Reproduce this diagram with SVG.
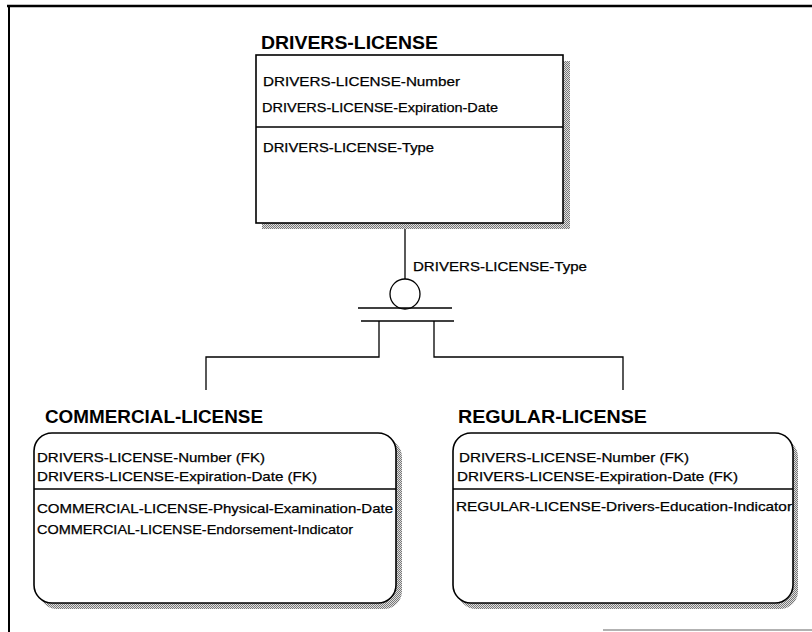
<svg xmlns="http://www.w3.org/2000/svg" width="812" height="632" viewBox="0 0 812 632">
<defs>
<pattern id="dither" width="2" height="2" patternUnits="userSpaceOnUse">
<rect width="2" height="2" fill="#e0e0e0"/>
<rect width="1" height="1" fill="#777"/>
<rect x="1" y="1" width="1" height="1" fill="#777"/>
</pattern>
</defs>
<style>
.title{font-family:"Liberation Sans",Arial,sans-serif;font-weight:bold;font-size:18px;fill:#000}
.attr{font-family:"Liberation Sans",Arial,sans-serif;font-size:13.5px;fill:#000;stroke:#000;stroke-width:0.25}
.box{fill:#fff;stroke:#000;stroke-width:1.6}
.shadow{fill:url(#dither);stroke:none}
.div{stroke:#000;stroke-width:1.4}
.conn{fill:none;stroke:#000;stroke-width:1.3}
.frame{stroke:#000;fill:none}
</style>
<rect width="812" height="632" fill="#fff"/>
<g id="frame">
<line class="frame" x1="7" y1="6" x2="812" y2="6" stroke-width="2.5"/>
<line class="frame" x1="9" y1="6" x2="9" y2="632" stroke-width="2"/>
<line x1="603" y1="630" x2="812" y2="630" stroke="#999" stroke-width="1.5"/>
</g>
<g id="connectors">
<line class="conn" x1="405" y1="223" x2="405" y2="279"/>
<circle class="conn" cx="405" cy="294" r="15"/>
<line class="conn" x1="358" y1="308" x2="452" y2="308" stroke-width="1.6"/>
<line class="conn" x1="361" y1="321" x2="454" y2="321" stroke-width="1.6"/>
<path class="conn" d="M379,321 V357 H206 V390"/>
<path class="conn" d="M434,321 V357 H623 V390"/>
<text class="attr" x="413" y="271" textLength="174" lengthAdjust="spacingAndGlyphs">DRIVERS-LICENSE-Type</text>
</g>
<g id="drivers-license">
<text class="title" x="261" y="49" textLength="177" lengthAdjust="spacingAndGlyphs">DRIVERS-LICENSE</text>
<rect class="shadow" x="262" y="61" width="308" height="168"/>
<rect class="box" x="256" y="55" width="307" height="168"/>
<line class="div" x1="256" y1="127" x2="563" y2="127"/>
<text class="attr" x="263" y="86" textLength="197" lengthAdjust="spacingAndGlyphs">DRIVERS-LICENSE-Number</text>
<text class="attr" x="262" y="112" textLength="236" lengthAdjust="spacingAndGlyphs">DRIVERS-LICENSE-Expiration-Date</text>
<text class="attr" x="263" y="152" textLength="171" lengthAdjust="spacingAndGlyphs">DRIVERS-LICENSE-Type</text>
</g>
<g id="commercial-license">
<text class="title" x="45" y="423" textLength="218" lengthAdjust="spacingAndGlyphs">COMMERCIAL-LICENSE</text>
<rect class="shadow" x="39" y="439" width="363" height="170" rx="18"/>
<rect class="box" x="34" y="433" width="362" height="170" rx="18"/>
<line class="div" x1="34" y1="489" x2="396" y2="489"/>
<text class="attr" x="37" y="462" textLength="228" lengthAdjust="spacingAndGlyphs">DRIVERS-LICENSE-Number (FK)</text>
<text class="attr" x="37" y="481" textLength="280" lengthAdjust="spacingAndGlyphs">DRIVERS-LICENSE-Expiration-Date (FK)</text>
<text class="attr" x="37" y="513" textLength="356" lengthAdjust="spacingAndGlyphs">COMMERCIAL-LICENSE-Physical-Examination-Date</text>
<text class="attr" x="37" y="534" textLength="316" lengthAdjust="spacingAndGlyphs">COMMERCIAL-LICENSE-Endorsement-Indicator</text>
</g>
<g id="regular-license">
<text class="title" x="458" y="423" textLength="189" lengthAdjust="spacingAndGlyphs">REGULAR-LICENSE</text>
<rect class="shadow" x="458" y="439" width="340" height="170" rx="18"/>
<rect class="box" x="453" y="433" width="340" height="170" rx="18"/>
<line class="div" x1="453" y1="489" x2="793" y2="489"/>
<text class="attr" x="459" y="462" textLength="230" lengthAdjust="spacingAndGlyphs">DRIVERS-LICENSE-Number (FK)</text>
<text class="attr" x="457" y="481" textLength="281" lengthAdjust="spacingAndGlyphs">DRIVERS-LICENSE-Expiration-Date (FK)</text>
<text class="attr" x="456" y="511" textLength="336" lengthAdjust="spacingAndGlyphs">REGULAR-LICENSE-Drivers-Education-Indicator</text>
</g>
</svg>
